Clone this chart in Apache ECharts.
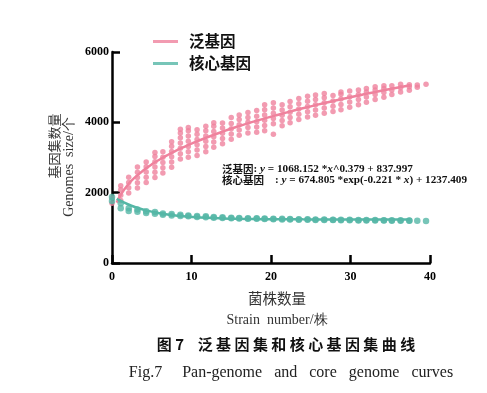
<!DOCTYPE html>
<html><head><meta charset="utf-8">
<script src="https://cdn.jsdelivr.net/npm/echarts@6/dist/echarts.min.js"></script>
<style>html,body{margin:0;padding:0;background:#fff}#c{width:487px;height:393px}</style>
</head><body><div id="c"></div>
<script>
// strain positions of scatter columns (x axis)
const strainX = [0,1.1,2.1,3.2,4.3,5.4,6.4,7.5,8.6,9.6,10.7,11.8,12.8,13.9,15,16,17.1,18.2,19.2,20.3,21.4,22.4,23.5,24.6,25.6,26.7,27.8,28.8,29.9,31,32,33.1,34.2,35.2,36.3,37.4,38.4,39.5];
// pan-genome sampled sizes per column
const panValues = [
 [1700,1850],
 [1780,1930,2080,2200],
 [1990,2140,2290,2440],
 [2130,2280,2430,2580,2730],
 [2290,2440,2590,2740,2870],
 [2430,2580,2730,2880,3030,3140],
 [2560,2710,2860,3010,3160],
 [2720,2870,3020,3170,3320,3450],
 [2960,3110,3260,3410,3560,3700,3800],
 [3010,3160,3310,3460,3610,3760,3850],
 [3060,3210,3360,3510,3660,3790],
 [3160,3310,3460,3610,3760,3890],
 [3290,3440,3590,3740,3890,3990],
 [3390,3540,3690,3840,3980],
 [3520,3670,3820,3970,4140],
 [3630,3780,3930,4080,4210],
 [3700,3850,4000,4140,4280],
 [3720,3870,4020,4170,4340],
 [3760,3910,4060,4210,4360,4500],
 [3660,3960,4110,4260,4410,4560],
 [3900,4050,4200,4350,4500],
 [3990,4140,4290,4440,4590],
 [4080,4230,4380,4530,4680],
 [4150,4300,4450,4600,4740],
 [4200,4350,4500,4650,4780],
 [4260,4410,4560,4700,4820],
 [4310,4460,4610,4760],
 [4360,4510,4660,4800,4860],
 [4430,4580,4730,4890],
 [4500,4650,4790,4920],
 [4570,4720,4860,4960],
 [4650,4790,4920,5010],
 [4710,4850,4960,5040],
 [4790,4920,5040],
 [4860,4980,5080],
 [4910,5010,5070],
 [5000,5060],
 [5080]
];
// core-genome sampled sizes per column
const coreValues = [
 [1760,1880],[1560,1700],[1480,1560],[1460,1520],[1420,1470],[1400,1450],[1370,1410],
 [1350,1390],[1340,1370],[1330,1350],[1310,1340],[1300,1330],[1290,1310],[1280,1300],
 [1270,1290],[1265,1280],[1260,1275],[1255,1270],[1250,1265],[1245,1260],[1240,1255],
 [1236,1250],[1232,1246],[1228,1242],[1225,1238],[1222,1235],[1220,1232],[1217,1230],
 [1215,1228],[1212,1225],[1210,1222],[1208,1220],[1206,1218],[1204,1216],[1202,1214],
 [1200,1212],[1198],[1196]
];
// fitted curves
const fitX = [0.6,1,2,3,4,5,6,7,8,9,10,12,14,16,18,20,22,24,26,28,30,32,34,36,37.5];
const panFit = [1718,1906,2227,2458,2643,2804,2944,3071,3187,3294,3394,3577,3742,3893,4033,4162,4284,4400,4510,4614,4715,4810,4903,4992,5056];
const coreFit = [1828,1778,1671,1585,1516,1461,1417,1381,1353,1330,1311,1285,1268,1257,1250,1245,1243,1241,1240,1239,1238,1238,1238,1237,1237];
const xTicks = [0,10,20,30,40];
const yTicks = [0,2000,4000,6000];
const seriesNames = ['泛基因','核心基因'];

const PINK = '#EF829D', TEAL = '#55B7A6';
const flat = (vals) => { const out=[]; vals.forEach((arr,i)=>arr.forEach(v=>out.push([strainX[i], v]))); return out; };
const pair = (xs, ys) => xs.map((x,i)=>[x, ys[i]]);

const chart = echarts.init(document.getElementById('c'), null, {renderer:'canvas'});
const serif = '"Liberation Serif","Times New Roman",serif';
const cjk = '"Noto Sans CJK SC",sans-serif';
chart.setOption({
  animation:false,
  grid:{left:112, right:57, top:52, bottom:130, containLabel:false},
  legend:{
    orient:'vertical', left:148, top:27, itemGap:3, itemWidth:25, itemHeight:3,
    data:[{name:seriesNames[0], icon:'rect'},{name:seriesNames[1], icon:'rect'}],
    textStyle:{fontFamily:cjk, fontSize:15.5, fontWeight:'bold', color:'#111', padding:[0,0,0,6], lineHeight:19}
  },
  xAxis:{type:'value', min:0, max:40, interval:10,
    axisLine:{show:true, lineStyle:{color:'#000', width:2.5}},
    axisTick:{show:true, inside:true, length:8, lineStyle:{color:'#000', width:2.5}},
    splitLine:{show:false},
    axisLabel:{fontFamily:serif, fontWeight:'bold', fontSize:12, color:'#000', margin:8,
      formatter:(v)=> xTicks.includes(v)? String(v):''}
  },
  yAxis:{type:'value', min:0, max:6000, interval:2000,
    axisLine:{show:true, lineStyle:{color:'#000', width:2.5}},
    axisTick:{show:true, inside:true, length:8, lineStyle:{color:'#000', width:2.5}},
    splitLine:{show:false},
    axisLabel:{fontFamily:serif, fontWeight:'bold', fontSize:12, color:'#000', margin:3,
      formatter:(v)=> yTicks.includes(v)? String(v):''}
  },
  series:[
    {name:seriesNames[0], type:'scatter', data:flat(panValues), symbolSize:5.5, itemStyle:{color:PINK}, z:2},
    {name:seriesNames[0], type:'line', data:pair(fitX,panFit), smooth:true, showSymbol:false, lineStyle:{color:PINK, width:2.5}, itemStyle:{color:PINK}, z:3},
    {name:seriesNames[1], type:'scatter', data:flat(coreValues), symbolSize:6.5, itemStyle:{color:TEAL}, z:4},
    {name:seriesNames[1], type:'line', data:pair(fitX,coreFit), smooth:true, showSymbol:false, lineStyle:{color:TEAL, width:2.5}, itemStyle:{color:TEAL}, z:5}
  ],
  graphic:[
    {type:'text', left:222, top:164, z:10, style:{
      text:'{c|泛基因}{b|: }{i|y}{b| = 1068.152 *}{i|x}{b|^0.379 + 837.997}\n{c|核心基因}{b|　: }{i|y}{b| = 674.805 *exp(-0.221 * }{i|x}{b|) + 1237.409}',
      rich:{
        c:{fontFamily:cjk, fontSize:10.5, fontWeight:'bold', fill:'#111', lineHeight:11},
        b:{fontFamily:serif, fontSize:11.2, fontWeight:'bold', fill:'#111', lineHeight:11},
        i:{fontFamily:serif, fontSize:11.2, fontWeight:'bold', fontStyle:'italic', fill:'#111', lineHeight:11}
      }}},
    {type:'text', x:54, y:146, rotation:Math.PI/2, z:10, style:{text:'基因集数量', fontFamily:cjk, fontSize:13, fill:'#333', align:'center', verticalAlign:'middle'}},
    {type:'text', x:69, y:167, rotation:Math.PI/2, z:10, style:{text:'Genomes  size/个', fontFamily:serif, fontSize:14, fill:'#333', align:'center', verticalAlign:'middle'}},
    {type:'text', x:277, y:298, z:10, style:{text:'菌株数量', fontFamily:cjk, fontSize:14.5, fill:'#333', align:'center', verticalAlign:'middle'}},
    {type:'text', x:277, y:320, z:10, style:{text:'Strain  number/株', fontFamily:serif, fontSize:14, fill:'#333', align:'center', verticalAlign:'middle'}},
    {type:'text', x:286, y:344, z:10, style:{text:'图 7    泛 基 因 集 和 核 心 基 因 集 曲 线', fontFamily:cjk, fontSize:15, fontWeight:'bold', fill:'#111', align:'center', verticalAlign:'middle'}},
    {type:'text', x:291, y:373, z:10, style:{text:'Fig.7     Pan-genome   and   core   genome   curves', fontFamily:serif, fontSize:16, fill:'#222', align:'center', verticalAlign:'middle'}}
  ]
});
</script></body></html>
